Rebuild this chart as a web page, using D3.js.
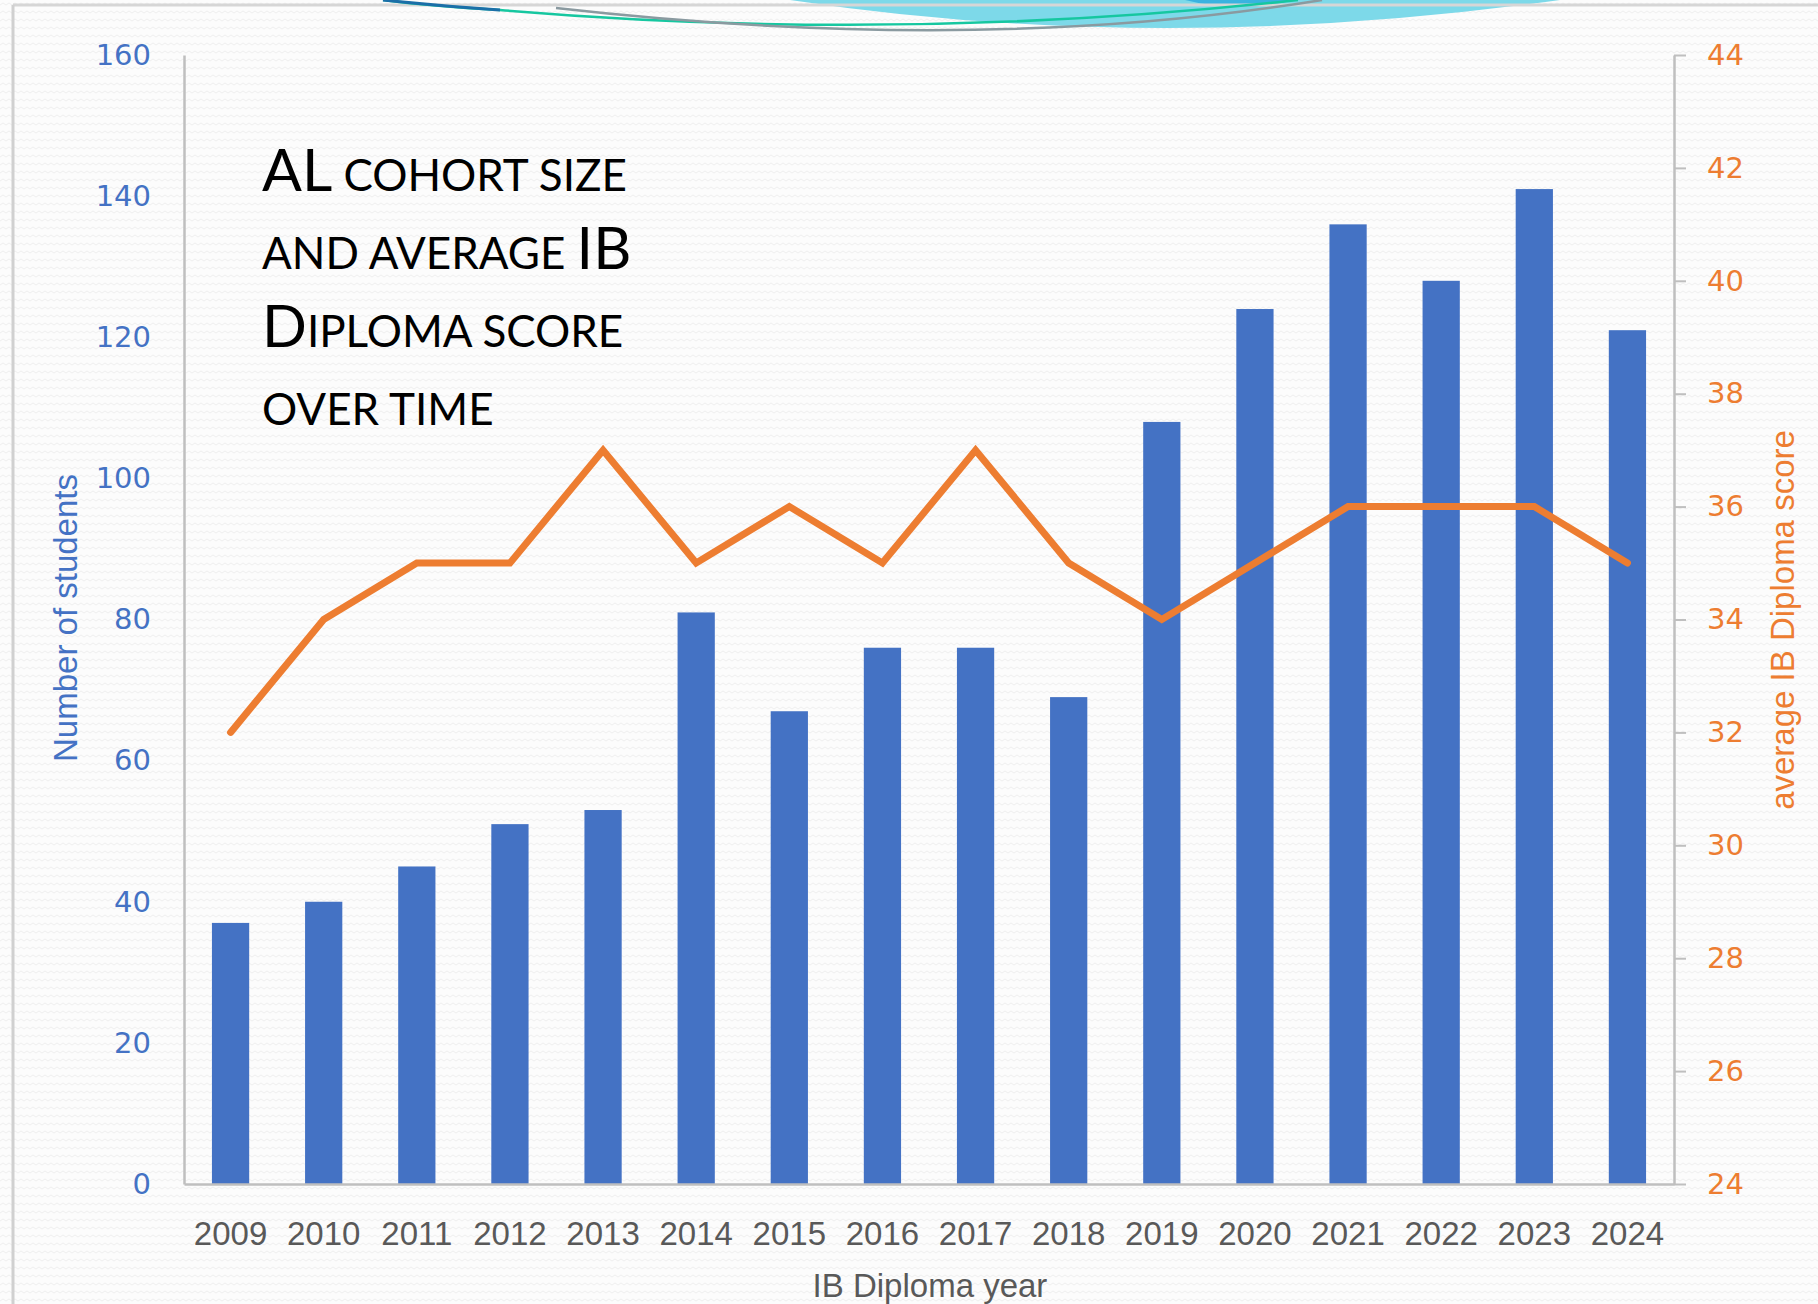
<!DOCTYPE html>
<html>
<head>
<meta charset="utf-8">
<script src="https://cdn.jsdelivr.net/npm/d3@7"></script>
<style>
  body { margin: 0; background: #fff; }
</style>
</head>
<body>
<div id="chart"></div>
<script>
var years = ["2009", "2010", "2011", "2012", "2013", "2014", "2015", "2016",
             "2017", "2018", "2019", "2020", "2021", "2022", "2023", "2024"];
var students = [37, 40, 45, 51, 53, 81, 67, 76, 76, 69, 108, 124, 136, 128, 141, 121];
var scores = [32, 34, 35, 35, 37, 35, 36, 35, 37, 35, 34, 35, 36, 36, 36, 35];
var studentTicks = [0, 20, 40, 60, 80, 100, 120, 140, 160];
var scoreTicks = [24, 26, 28, 30, 32, 34, 36, 38, 40, 42, 44];

var width = 1818,
    height = 1304,
    plotLeft = 184,
    plotRight = 1674,
    plotTop = 55,
    plotBottom = 1184;

var blue = "#4472C4",
    orange = "#ED7D31",
    grey = "#BFBFBF";

var svg = d3.select("#chart").append("svg")
    .attr("width", width)
    .attr("height", height);

// faint zigzag slide texture
var defs = svg.append("defs");
var pat = defs.append("pattern")
    .attr("id", "zig")
    .attr("width", 6)
    .attr("height", 8)
    .attr("patternUnits", "userSpaceOnUse");
pat.append("rect").attr("width", 6).attr("height", 8).attr("fill", "#fcfcfc");
pat.append("path")
    .attr("d", "M0,5 L3,3 L6,5")
    .attr("fill", "none")
    .attr("stroke", "#efefef")
    .attr("stroke-width", 1);

svg.append("rect")
    .attr("width", width)
    .attr("height", height)
    .attr("fill", "url(#zig)");

// slide frame and decorative swoosh at the top
svg.append("path")
    .attr("d", "M790,0 Q1160,56 1560,0 Z")
    .attr("fill", "#7DD9E9");
svg.append("path")
    .attr("d", "M1185,0 Q1240,14 1295,0 Z")
    .attr("fill", "#3AB3E0");
svg.append("line")
    .attr("x1", 13).attr("x2", width)
    .attr("y1", 5).attr("y2", 5)
    .attr("stroke", "#d6d6d6")
    .attr("stroke-width", 3);
svg.append("line")
    .attr("x1", 13).attr("x2", 13)
    .attr("y1", 5).attr("y2", height)
    .attr("stroke", "#d0d0d0")
    .attr("stroke-width", 3);
svg.append("path")
    .attr("d", "M383,0 Q430,6 500,10 Q900,44 1298,0")
    .attr("fill", "none")
    .attr("stroke", "#16C7A0")
    .attr("stroke-width", 2.5);
svg.append("path")
    .attr("d", "M383,0 Q440,6 500,10")
    .attr("fill", "none")
    .attr("stroke", "#1B6FA8")
    .attr("stroke-width", 3);
svg.append("path")
    .attr("d", "M556,8 Q980,56 1322,0")
    .attr("fill", "none")
    .attr("stroke", "#8a9aa0")
    .attr("stroke-width", 2.5);

var x = d3.scaleBand()
    .domain(years)
    .range([plotLeft, plotRight])
    .paddingInner(0.6)
    .paddingOuter(0.3);

var y = d3.scaleLinear()
    .domain([0, 160])
    .range([plotBottom, plotTop]);

var y2 = d3.scaleLinear()
    .domain([24, 44])
    .range([plotBottom, plotTop]);

// bars
svg.append("g").selectAll("rect")
    .data(students)
    .enter().append("rect")
    .attr("x", function (d, i) { return x(years[i]); })
    .attr("y", function (d) { return y(d); })
    .attr("width", x.bandwidth())
    .attr("height", function (d) { return y(0) - y(d); })
    .attr("fill", blue);

// axes
var yAxis = svg.append("g")
    .attr("transform", "translate(" + plotLeft + ",0)")
    .call(d3.axisLeft(y).tickValues(studentTicks).tickSize(0).tickSizeOuter(0).tickPadding(33));
yAxis.selectAll("text")
    .attr("fill", blue)
    .style("font", "29px 'DejaVu Sans'");

var y2Axis = svg.append("g")
    .attr("transform", "translate(" + plotRight + ",0)")
    .call(d3.axisRight(y2).tickValues(scoreTicks).tickSize(12).tickSizeOuter(0).tickPadding(21));
y2Axis.selectAll("text")
    .attr("fill", orange)
    .style("font", "29px 'DejaVu Sans'");
y2Axis.selectAll("line").attr("stroke", grey).attr("stroke-width", 2);

var xAxis = svg.append("g")
    .attr("transform", "translate(0," + plotBottom + ")")
    .call(d3.axisBottom(x).tickSize(0).tickSizeOuter(0).tickPadding(38));
xAxis.selectAll("text")
    .attr("fill", "#595959")
    .style("font", "33px 'Liberation Sans'");

svg.selectAll(".domain")
    .attr("stroke", grey)
    .attr("stroke-width", 2.5);

// average score line
var line = d3.line()
    .x(function (d, i) { return x(years[i]) + x.bandwidth() / 2; })
    .y(function (d) { return y2(d); });

svg.append("path")
    .datum(scores)
    .attr("d", line)
    .attr("fill", "none")
    .attr("stroke", orange)
    .attr("stroke-width", 7)
    .attr("stroke-linejoin", "miter")
    .attr("stroke-linecap", "round");

// axis titles
svg.append("text")
    .attr("transform", "translate(77,618) rotate(-90)")
    .attr("text-anchor", "middle")
    .attr("fill", blue)
    .style("font", "33px 'Liberation Sans'")
    .text("Number of students");

svg.append("text")
    .attr("transform", "translate(1794,620) rotate(-90)")
    .attr("text-anchor", "middle")
    .attr("fill", orange)
    .style("font", "33px 'Liberation Sans'")
    .text("average IB Diploma score");

svg.append("text")
    .attr("x", 930)
    .attr("y", 1297)
    .attr("text-anchor", "middle")
    .attr("fill", "#595959")
    .style("font", "33px 'Liberation Sans'")
    .text("IB Diploma year");

// title in small caps: big initials, smaller capitals for the rest
var titleLines = [
    [["AL", 1], [" COHORT SIZE", 0]],
    [["AND AVERAGE ", 0], ["IB", 1]],
    [["D", 1], ["IPLOMA SCORE", 0]],
    [["OVER TIME", 0]]
];
var title = svg.append("g").style("font-family", "Lato").attr("fill", "#000");
titleLines.forEach(function (parts, i) {
    var t = title.append("text")
        .attr("x", 262)
        .attr("y", 191 + i * 78)
        .style("white-space", "pre");
    parts.forEach(function (p) {
        t.append("tspan")
            .style("font-size", p[1] ? "59px" : "44px")
            .text(p[0]);
    });
});
</script>
</body>
</html>
